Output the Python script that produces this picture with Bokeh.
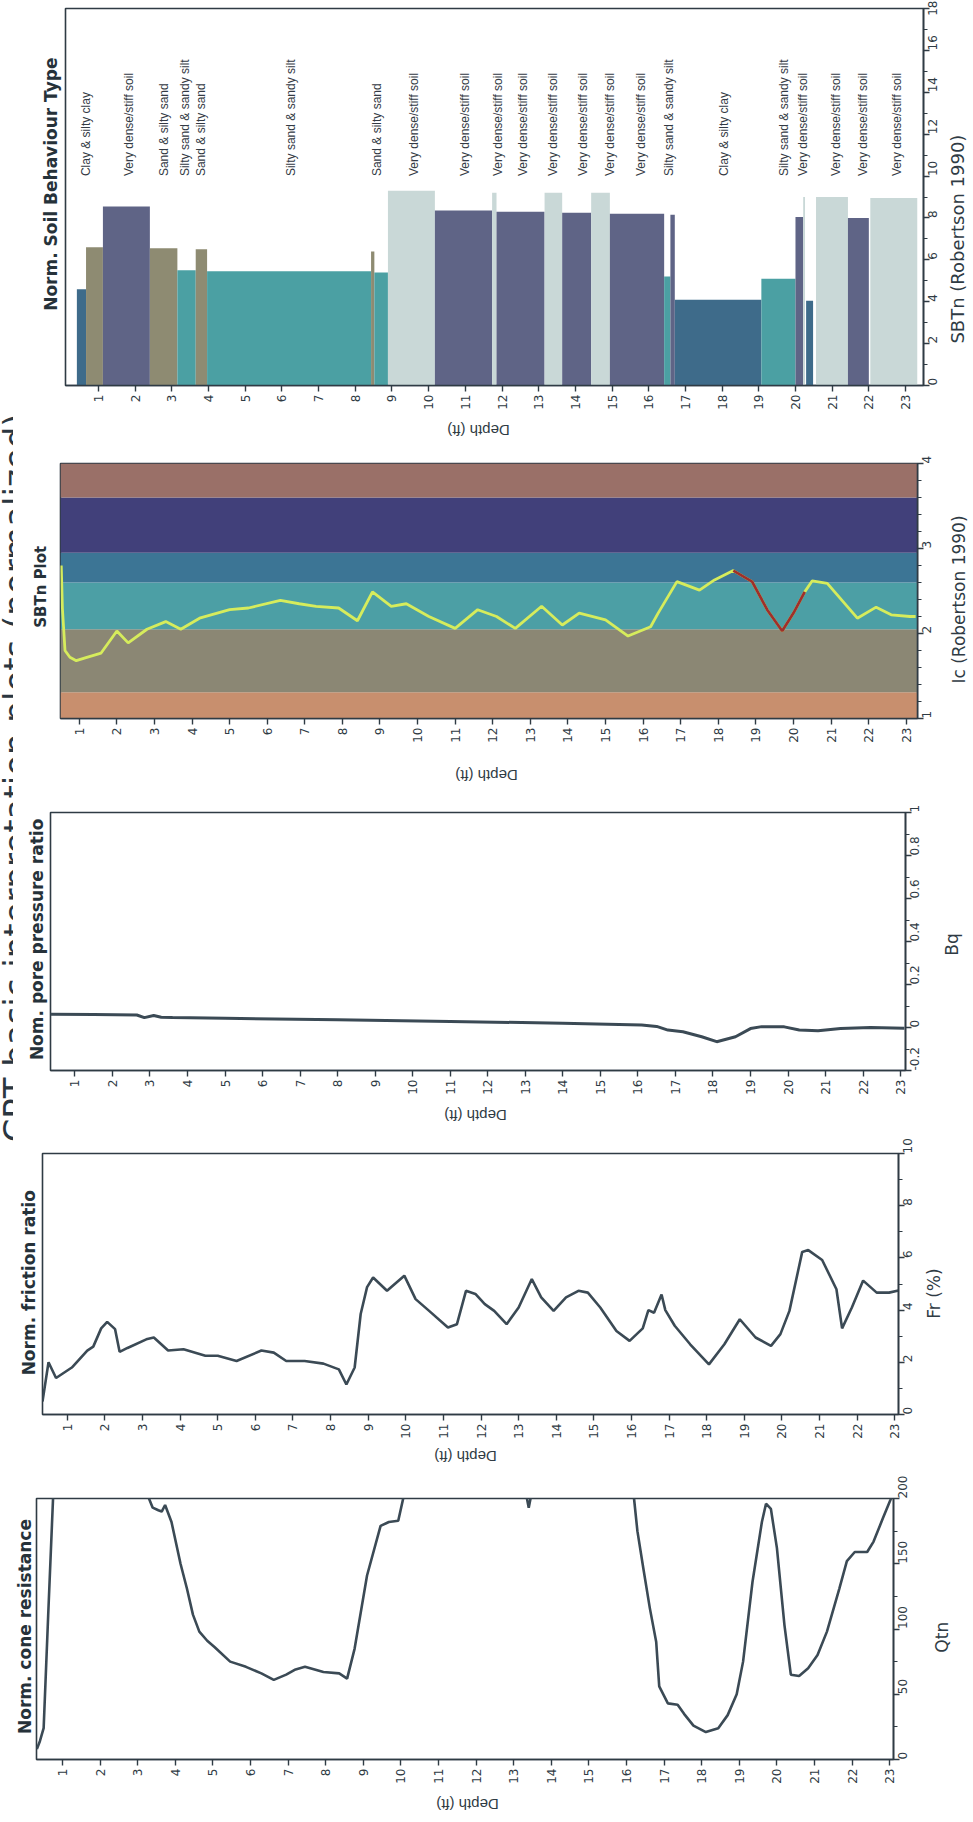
import math

from bokeh.core.properties import value
from bokeh.embed import file_html
from bokeh.layouts import column, row
from bokeh.models import FixedTicker, Range1d
from bokeh.plotting import figure
from bokeh.resources import INLINE

# ---------------------------------------------------------------- data
depth_ticks = list(range(1, 24))

# Normalized cone resistance (values above 200 run off the plotted scale)
qtn_depth = [0.32, 0.40, 0.50, 0.62, 0.75, 0.90, 2.0, 3.1, 3.23, 3.4, 3.55, 3.64, 3.73, 3.9,
             4.14, 4.31, 4.47, 4.64, 4.85, 5.05, 5.46, 5.88, 6.29, 6.62, 6.95, 7.2, 7.45,
             7.94, 8.36, 8.57, 8.77, 9.1, 9.46, 9.68, 9.93, 10.1, 10.3, 12.0, 13.25, 13.4,
             13.55, 15.0, 16.1, 16.2, 16.29, 16.45, 16.62, 16.79, 16.87, 17.1, 17.36, 17.53,
             17.78, 18.11, 18.44, 18.69, 18.93, 19.1, 19.35, 19.6, 19.71, 19.84, 20.0, 20.2,
             20.37, 20.59, 20.83, 21.08, 21.33, 21.66, 21.86, 22.07, 22.4, 22.57, 22.82,
             23.02, 23.1]
qtn_value = [8, 14, 24, 110, 200, 240, 260, 230, 205, 193, 191, 190, 195, 182,
             150, 131, 111, 98, 91, 86, 75, 71, 66, 61, 65, 69, 71,
             67, 66, 62, 85, 141, 179, 182, 183, 205, 240, 260, 215, 193,
             215, 260, 230, 200, 175, 146, 116, 90, 56, 43, 42, 35,
             26, 21, 24, 34, 50, 75, 136, 182, 196, 192, 162, 103,
             65, 64, 70, 80, 98, 131, 152, 159, 159, 167, 185,
             199, 205]

# Normalized friction ratio (%)
fr_depth = [0.34, 0.50, 0.70, 1.12, 1.53, 1.69, 1.9, 2.06, 2.27, 2.39, 2.6, 3.1, 3.3, 3.68,
            4.09, 4.67, 5.0, 5.5, 6.16, 6.49, 6.82, 7.31, 7.81, 8.22, 8.42, 8.64, 8.8,
            8.97, 9.13, 9.5, 9.96, 10.26, 10.62, 11.12, 11.36, 11.6, 11.85, 12.1, 12.35,
            12.68, 13.0, 13.35, 13.6, 13.93, 14.26, 14.59, 14.84, 15.17, 15.6, 15.95, 16.3,
            16.45, 16.6, 16.8, 16.9, 17.15, 17.56, 18.06, 18.47, 18.88, 19.3, 19.71, 19.96,
            20.2, 20.54, 20.7, 21.07, 21.45, 21.6, 21.86, 22.16, 22.52, 22.85, 23.1]
fr_value = [0.5, 2.0, 1.4, 1.8, 2.45, 2.6, 3.3, 3.55, 3.27, 2.4, 2.55, 2.88, 2.95, 2.45,
            2.5, 2.25, 2.25, 2.05, 2.45, 2.37, 2.05, 2.05, 1.95, 1.73, 1.15, 1.8, 3.85,
            4.88, 5.25, 4.74, 5.32, 4.42, 3.97, 3.33, 3.46, 4.74, 4.62, 4.23, 3.97,
            3.46, 4.1, 5.19, 4.49, 3.97, 4.49, 4.74, 4.67, 4.1, 3.2, 2.82, 3.3,
            4.0, 3.9, 4.6, 4.0, 3.4, 2.69, 1.92, 2.69, 3.65, 2.95, 2.63, 3.08,
            3.97, 6.23, 6.3, 5.92, 4.8, 3.3, 4.1, 5.13, 4.67, 4.67, 4.75]

# Normalized pore pressure ratio Bq
bq_depth = [0.35, 1.5, 2.65, 2.85, 3.1, 3.3, 3.6, 5.0, 8.0, 11.0, 14.0, 16.1, 16.5, 16.8,
            17.2, 17.7, 18.1, 18.6, 19.0, 19.3, 19.9, 20.3, 20.8, 21.4, 22.2, 23.1]
bq_value = [0.062, 0.061, 0.058, 0.046, 0.056, 0.048, 0.046, 0.043, 0.036, 0.028, 0.020,
            0.012, 0.005, -0.012, -0.020, -0.043, -0.066, -0.043, -0.005, 0.004, 0.003,
            -0.012, -0.015, -0.005, 0.0, -0.004]

# Soil behaviour type index Ic
ic_depth = [0.52, 0.55, 0.62, 0.75, 0.92, 1.2, 1.58, 2.0, 2.3, 2.8, 3.3, 3.7, 4.2, 5.0, 5.5,
            6.35, 6.85, 7.3, 7.9, 8.4, 8.8, 9.3, 9.7, 10.3, 11.0, 11.6, 12.1, 12.6, 13.3,
            13.85, 14.3, 15.0, 15.6, 16.2, 16.4, 16.9, 17.5, 17.9, 18.4, 18.9, 19.3, 19.7,
            20.0, 20.3, 20.5, 20.9, 21.7, 22.2, 22.6, 23.1, 23.25]
ic_value = [2.8, 2.3, 1.8, 1.72, 1.68, 1.72, 1.77, 2.03, 1.89, 2.05, 2.14, 2.05, 2.18, 2.28,
            2.30, 2.39, 2.35, 2.32, 2.30, 2.15, 2.49, 2.32, 2.35, 2.2, 2.06, 2.28, 2.2,
            2.06, 2.32, 2.1, 2.24, 2.16, 1.97, 2.08, 2.24, 2.61, 2.51, 2.63, 2.74, 2.61,
            2.28, 2.03, 2.24, 2.49, 2.62, 2.59, 2.18, 2.31, 2.22, 2.2, 2.2]
ic_flag_from, ic_flag_to = 18.4, 20.3

# Robertson (1990) Ic zone boundaries
ic_bounds = [1.0, 1.31, 2.05, 2.60, 2.95, 3.60, 4.0]

# Soil behaviour type layers
sbt_from = [0.41, 0.66, 1.12, 2.40, 3.15, 3.65, 3.96, 8.43, 8.52, 8.89, 10.17, 11.73, 11.85,
            13.16, 13.64, 14.43, 14.94, 16.42, 16.59, 16.71, 19.07, 20.0, 20.21, 20.29,
            20.56, 21.43, 22.04]
sbt_to = [0.66, 1.12, 2.40, 3.15, 3.65, 3.96, 8.43, 8.52, 8.89, 10.17, 11.73, 11.85, 13.16,
          13.64, 14.43, 14.94, 16.42, 16.59, 16.71, 19.07, 20.0, 20.21, 20.26, 20.48,
          21.43, 22.0, 23.32]
sbt_value = [4.6, 6.6, 8.55, 6.55, 5.5, 6.5, 5.45, 6.4, 5.4, 9.3, 8.35, 9.2, 8.3,
             9.2, 8.25, 9.2, 8.2, 5.2, 8.15, 4.1, 5.1, 8.05, 9.0, 4.05,
             9.0, 8.0, 8.95]
sbt_zone = [3, 6, 8, 6, 5, 6, 5, 6, 5, 9, 8, 9, 8,
            9, 8, 9, 8, 5, 8, 3, 5, 8, 9, 3,
            9, 8, 9]

sbt_label_depth = [0.65, 1.83, 2.78, 3.37, 3.8, 6.24, 8.6, 9.6, 11.0, 11.9, 12.57, 13.4,
                   14.2, 14.95, 15.8, 16.55, 18.06, 19.68, 20.2, 21.1, 21.83, 22.78]
sbt_label_text = ["Clay & silty clay", "Very dense/stiff soil", "Sand & silty sand",
                  "Silty sand & sandy silt", "Sand & silty sand", "Silty sand & sandy silt",
                  "Sand & silty sand", "Very dense/stiff soil", "Very dense/stiff soil",
                  "Very dense/stiff soil", "Very dense/stiff soil", "Very dense/stiff soil",
                  "Very dense/stiff soil", "Very dense/stiff soil", "Very dense/stiff soil",
                  "Silty sand & sandy silt", "Clay & silty clay", "Silty sand & sandy silt",
                  "Very dense/stiff soil", "Very dense/stiff soil", "Very dense/stiff soil",
                  "Very dense/stiff soil"]

# ---------------------------------------------------------------- styling
PAGE_W = 973
HEAD_W = 13
INK = "#2f3b44"
LINE = "#3b4a55"
SANS = "DejaVu Sans"
ARIAL = "Liberation Sans"

ZONE_COLORS = {3: "#3e6b8a", 5: "#4ba0a3", 6: "#8e8b72", 8: "#5f6486", 9: "#c9d8d7"}
IC_COLORS = ["#c88f6e", "#8b8774", "#4c9fa5", "#3c7595", "#41407a", "#9a7068"]


def strip(x0, x1, y0, y1):
    """Blank figure whose data space is the page pixel grid of its own area."""
    s = figure(width=x1 - x0, height=y1 - y0, x_range=Range1d(x0, x1),
               y_range=Range1d(y1, y0), output_backend="svg", toolbar_location=None,
               x_axis_location=None, y_axis_location=None, min_border=0)
    s.grid.visible = False
    s.outline_line_color = None
    s.background_fill_color = "white"
    s.border_fill_color = "white"
    return s


def strip_text(s, x, y, text, size, angle, font=SANS, bold=False, color=INK):
    s.text(x=[x], y=[y], text=[text], angle=angle, text_align="center",
           text_baseline="middle", text_font=value(font), text_font_size=f"{size}px",
           text_font_style="bold" if bold else "normal", text_color=color)


def panel_block(spec, drange, vrange, vticks, vminor, draw, overrides=None):
    top, bottom = spec["top"], spec["bottom"]
    fl, fr, ft, fb = spec["frame"]
    sx = spec["strip_x"]
    dy = spec["depth_y"]
    x_left = fl - 2

    p = figure(width=sx - x_left, height=dy - top,
               x_range=Range1d(*drange), y_range=Range1d(*vrange),
               y_axis_location="right", output_backend="svg", toolbar_location=None,
               min_border_left=2, min_border_right=sx - fr,
               min_border_top=ft - top, min_border_bottom=dy - fb)
    p.xgrid.visible = False
    p.ygrid.visible = False
    p.outline_line_color = INK
    p.outline_line_width = 1.6
    p.background_fill_color = "white"
    p.border_fill_color = "white"

    xa = p.xaxis[0]
    xa.ticker = FixedTicker(ticks=depth_ticks)
    xa.major_label_orientation = math.pi / 2
    xa.major_tick_out = 6
    xa.major_tick_in = 0
    xa.minor_tick_out = 0
    xa.major_label_standoff = 3
    xa.major_label_text_font = SANS
    xa.major_label_text_font_size = "12px"
    xa.major_label_text_color = INK
    xa.axis_line_color = INK
    xa.axis_line_width = 1.6
    xa.major_tick_line_color = INK
    xa.major_tick_line_width = 1.4

    ya = p.yaxis[0]
    ya.ticker = FixedTicker(ticks=vticks, minor_ticks=vminor)
    ya.major_label_orientation = math.pi / 2
    ya.major_tick_out = 6
    ya.major_tick_in = 0
    ya.minor_tick_out = 4
    ya.minor_tick_in = 0
    ya.major_label_standoff = 3
    ya.major_label_text_font = SANS
    ya.major_label_text_font_size = "12px"
    ya.major_label_text_color = INK
    ya.axis_line_color = INK
    ya.axis_line_width = 1.6
    ya.major_tick_line_color = INK
    ya.minor_tick_line_color = INK
    ya.major_tick_line_width = 1.4
    if overrides:
        ya.major_label_overrides = overrides

    draw(p)

    # panel title to the left of the frame
    t = strip(HEAD_W, x_left, top, dy)
    strip_text(t, *spec["title_xy"], spec["title"], spec["title_size"], math.pi / 2,
               bold=True, color="#26323a")
    # value-axis name to the right of the tick labels
    v = strip(sx, PAGE_W, top, dy)
    strip_text(v, *spec["vlabel_xy"], spec["vlabel"], spec["vlabel_size"], math.pi / 2)
    # depth-axis name under the depth ticks
    d = strip(HEAD_W, PAGE_W, dy, bottom)
    strip_text(d, *spec["depth_xy"], "Depth (ft)", 15, math.pi, font=ARIAL)

    return column(row(t, p, v), d)


# ---------------------------------------------------------------- SBT panel
def draw_sbt(p):
    p.quad(left=sbt_from, right=sbt_to, bottom=0, top=sbt_value,
           fill_color=[ZONE_COLORS[z] for z in sbt_zone], line_color=None)
    p.text(x=sbt_label_depth, y=[10] * len(sbt_label_depth), text=sbt_label_text,
           angle=math.pi / 2, text_align="left", text_baseline="middle",
           text_font=value(ARIAL), text_font_size="12px", text_color="#333a44")


sbt_block = panel_block(
    dict(top=0, bottom=445, frame=(65, 923, 8, 385), strip_x=947, depth_y=412,
         title="Norm. Soil Behaviour Type", title_size=17, title_xy=(50, 192),
         vlabel="SBTn (Robertson 1990)", vlabel_size=18, vlabel_xy=(957, 252),
         depth_xy=(478, 430)),
    (0.10, 23.49), (0, 18), list(range(0, 19, 2)), list(range(1, 18, 2)), draw_sbt)

# ---------------------------------------------------------------- SBTn (Ic) panel
IC_RANGE = (0.5, 23.3)


def draw_ic(p):
    p.quad(left=IC_RANGE[0], right=IC_RANGE[1], bottom=ic_bounds[:-1], top=ic_bounds[1:],
           fill_color=IC_COLORS, line_color=None)
    p.line(ic_depth, ic_value, line_color="#d6ec5c", line_width=2.8)
    flag_d = [d for d in ic_depth if ic_flag_from <= d <= ic_flag_to]
    flag_v = [v for d, v in zip(ic_depth, ic_value) if ic_flag_from <= d <= ic_flag_to]
    p.line(flag_d, flag_v, line_color="#9e2f2c", line_width=2.8)


ic_block = panel_block(
    dict(top=445, bottom=790, frame=(60, 917, 463, 718), strip_x=943, depth_y=745,
         title="SBTn Plot", title_size=15, title_xy=(40, 590),
         vlabel="Ic (Robertson 1990)", vlabel_size=17, vlabel_xy=(958, 605),
         depth_xy=(486, 775)),
    IC_RANGE, (1, 4), [1, 2, 3, 4], [round(1 + 0.2 * i, 1) for i in range(16) if i % 5],
    draw_ic)

# ---------------------------------------------------------------- Bq panel
def draw_bq(p):
    p.line(bq_depth, bq_value, line_color=LINE, line_width=3)


bq_block = panel_block(
    dict(top=790, bottom=1128, frame=(50, 905, 812, 1070), strip_x=932, depth_y=1097,
         title="Nom. pore pressure ratio", title_size=17, title_xy=(36, 941),
         vlabel="Bq", vlabel_size=17, vlabel_xy=(951, 947),
         depth_xy=(475, 1115)),
    (0.35, 23.13), (-0.2, 1.0), [-0.2, 0.0, 0.2, 0.4, 0.6, 0.8, 1.0],
    [-0.1, 0.1, 0.3, 0.5, 0.7, 0.9], draw_bq,
    overrides={-0.2: "-0.2", 0: "0", 0.2: "0.2", 0.4: "0.4", 0.6: "0.6", 0.8: "0.8", 1: "1"})

# ---------------------------------------------------------------- Fr panel
def draw_fr(p):
    p.line(fr_depth, fr_value, line_color=LINE, line_width=2.6)


fr_block = panel_block(
    dict(top=1128, bottom=1470, frame=(42, 898, 1153, 1414), strip_x=922, depth_y=1441,
         title="Norm. friction ratio", title_size=17, title_xy=(28, 1283),
         vlabel="Fr (%)", vlabel_size=17, vlabel_xy=(933, 1296),
         depth_xy=(465, 1456)),
    (0.34, 23.1), (0, 10), [0, 2, 4, 6, 8, 10], [1, 3, 5, 7, 9], draw_fr)

# ---------------------------------------------------------------- Qtn panel
def draw_qt(p):
    p.line(qtn_depth, qtn_value, line_color=LINE, line_width=2.6)


qt_block = panel_block(
    dict(top=1470, bottom=1820, frame=(36, 893, 1498, 1759), strip_x=920, depth_y=1786,
         title="Norm. cone resistance", title_size=17, title_xy=(24, 1625),
         vlabel="Qtn", vlabel_size=17, vlabel_xy=(941, 1638),
         depth_xy=(467, 1804)),
    (0.31, 23.1), (0, 200), [0, 50, 100, 150, 200], [25, 75, 125, 175], draw_qt)

# ---------------------------------------------------------------- page heading strip
p_head = strip(0, HEAD_W, 0, 1820)
p_head.text(x=[15], y=[413], text=["CPT basic interpretation plots (normalized)"],
            angle=math.pi / 2, text_align="right", text_baseline="alphabetic",
            text_font=value(SANS), text_font_size="34px", text_color="#2b3640")

layout = row(p_head, column(sbt_block, ic_block, bq_block, fr_block, qt_block))

with open("out.html", "w") as f:
    f.write(file_html(layout, INLINE))
